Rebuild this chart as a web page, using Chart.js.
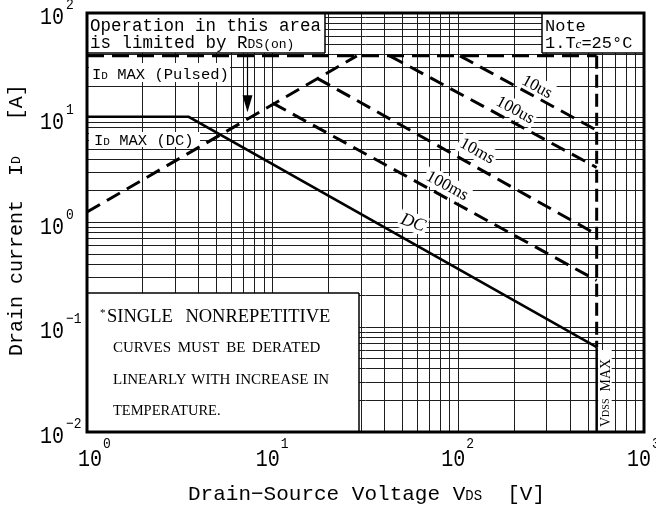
<!DOCTYPE html>
<html>
<head>
<meta charset="utf-8">
<script src="https://cdn.jsdelivr.net/npm/chart.js@4.4.1/dist/chart.umd.min.js"></script>
<style>
  html, body { margin: 0; padding: 0; background: #fff; }
  canvas { display: block; }
</style>
</head>
<body>
<canvas id="soa" width="656" height="508"></canvas>
<script>
// ── Data ─────────────────────────────────────────────────────────────────────
const X_TICKS = [1, 10, 100, 1000];
const X_EXPONENTS = ['0', '1', '2', '3'];
const Y_TICKS = [0.01, 0.1, 1, 10, 100];
const Y_EXPONENTS = ['\u22122', '\u22121', '0', '1', '2'];

const VDSS_MAX = 556;     // V, where the curves stop
const ID_PULSED = 39;     // A
const ID_DC = 10.2;       // A

const RDS_V = [1, 28.4];
const RDS_I = [1.26, 39];

const DC_V = [1, 3.53, 556];
const DC_I = [10.2, 10.2, 0.0645];

const PULSE_NAMES = ['10us', '100us', '10ms', '100ms'];
const PULSE_START_V = [102, 42.7, 17.3, 10];
const PULSE_START_I = [39, 39, 23.9, 13.8];
const PULSE_END_I = [7.6, 3.35, 0.77, 0.28];

// ── Annotation placement (data coords) ───────────────────────────────────────
const LABEL_V = [265, 202, 126, 87];
const LABEL_I = [19.6, 11.8, 4.8, 2.23];
const DC_LABEL = { v: 57, i: 0.99 };
const ARROW = { v: 7.3, from: 41, to: 11.3 };

// ── Helpers ──────────────────────────────────────────────────────────────────
const MONO = '"Liberation Mono", "DejaVu Sans Mono", monospace';
const SERIF = '"Liberation Serif", "DejaVu Serif", serif';

const pts = (xs, ys) => xs.map((x, i) => ({ x, y: ys[i] }));

const decadeGrid = (lo, hi) => {
  const out = [];
  for (let e = lo; e < hi; e++)
    for (let m = 1; m < 10; m++) out.push(parseFloat((m * Math.pow(10, e)).toPrecision(6)));
  out.push(Math.pow(10, hi));
  return out;
};

// draw runs of [text, font] one after the other from x
function rich(ctx, parts, x, y) {
  parts.forEach(([t, f]) => {
    ctx.font = f;
    ctx.fillText(t, x, y);
    x += ctx.measureText(t).width;
  });
  return x;
}

function whiteBox(ctx, x0, y0, x1, y1) {
  ctx.fillStyle = '#fff';
  ctx.fillRect(x0, y0, x1 - x0, y1 - y0);
}

function edge(ctx, x0, y0, x1, y1, w) {
  ctx.beginPath();
  ctx.lineWidth = w || 1.5;
  ctx.strokeStyle = '#000';
  ctx.moveTo(x0, y0);
  ctx.lineTo(x1, y1);
  ctx.stroke();
}

function tallText(ctx, text, x, y, font, align, sy) {
  ctx.save();
  ctx.font = font;
  ctx.textAlign = align;
  ctx.translate(x, y);
  ctx.scale(1, sy);
  ctx.fillText(text, 0, 0);
  ctx.restore();
}

function tiltLabel(ctx, text, x, y, deg, font) {
  ctx.save();
  ctx.translate(x, y);
  ctx.rotate(deg * Math.PI / 180);
  ctx.font = font;
  const w = ctx.measureText(text).width;
  ctx.fillStyle = '#fff';
  ctx.fillRect(-w / 2 - 2, -10, w + 4, 19);
  ctx.fillStyle = '#000';
  ctx.textAlign = 'center';
  ctx.textBaseline = 'middle';
  ctx.fillText(text, 0, 0);
  ctx.restore();
}

// ── Decorations plugin ───────────────────────────────────────────────────────
const soaDecor = {
  id: 'soaDecor',
  beforeDatasetsDraw(chart) {
    const ctx = chart.ctx;
    const ca = chart.chartArea;
    const xs = chart.scales.x, ys = chart.scales.y;
    ctx.save();
    ctx.textBaseline = 'alphabetic';

    // "Operation in this area" box
    whiteBox(ctx, ca.left, ca.top, 325, 53);
    edge(ctx, 325, ca.top, 325, 53);
    edge(ctx, ca.left, 53, 325, 53);
    ctx.fillStyle = '#000';
    rich(ctx, [['Operation in this area', '17.5px ' + MONO]], 90, 31);
    rich(ctx, [['is limited by R', '17.5px ' + MONO], ['DS(on)', '13px ' + MONO]], 90, 48);

    // Note box
    whiteBox(ctx, 542, ca.top, ca.right, 53);
    edge(ctx, 542, ca.top, 542, 53);
    edge(ctx, 542, 53, ca.right, 53);
    ctx.fillStyle = '#000';
    rich(ctx, [['Note', '17px ' + MONO]], 545, 31);
    rich(ctx, [['1.T', '17px ' + MONO], ['c', 'italic 13px ' + SERIF], ['=25\u00b0C', '17px ' + MONO]], 545, 48);

    // ID MAX labels
    whiteBox(ctx, ca.left + 2, 63, 230, 82);
    whiteBox(ctx, ca.left + 2, 132, 200, 147);
    ctx.fillStyle = '#000';
    rich(ctx, [['I', '15.5px ' + MONO], ['D', '11px ' + MONO], [' MAX (Pulsed)', '15.5px ' + MONO]], 92, 79);
    rich(ctx, [['I', '15.5px ' + MONO], ['D', '11px ' + MONO], [' MAX (DC)', '15.5px ' + MONO]], 94, 145);

    // Single-pulse note box
    whiteBox(ctx, ca.left, 293, 359, ca.bottom);
    edge(ctx, ca.left, 293, 359, 293);
    edge(ctx, 359, 293, 359, ca.bottom);
    ctx.fillStyle = '#000';
    ctx.wordSpacing = '8px';
    rich(ctx, [['*', '11px ' + SERIF]], 100, 316);
    rich(ctx, [['SINGLE NONREPETITIVE', '18.5px ' + SERIF]], 107, 322);
    ctx.wordSpacing = '3px';
    rich(ctx, [['CURVES MUST BE DERATED', '15px ' + SERIF]], 113, 352);
    ctx.wordSpacing = '1px';
    rich(ctx, [['LINEARLY WITH INCREASE IN', '15px ' + SERIF]], 113, 384);
    rich(ctx, [['TEMPERATURE.', '14.5px ' + SERIF]], 113, 415);
    ctx.wordSpacing = '0px';

    // VDSS MAX label
    const vx = xs.getPixelForValue(VDSS_MAX);
    whiteBox(ctx, vx + 1.5, 350, vx + 15, ca.bottom - 1);
    ctx.save();
    ctx.translate(vx + 10, 427);
    ctx.rotate(-Math.PI / 2);
    ctx.fillStyle = '#000';
    ctx.textBaseline = 'middle';
    rich(ctx, [['V', '14px ' + SERIF], ['DSS', '10px ' + SERIF], ['  MAX', '14px ' + SERIF]], 0, 0);
    ctx.restore();

    // curve labels
    PULSE_NAMES.forEach((n, i) => {
      tiltLabel(ctx, n, xs.getPixelForValue(LABEL_V[i]), ys.getPixelForValue(LABEL_I[i]), 28.5, '17px ' + SERIF);
    });
    tiltLabel(ctx, 'DC', xs.getPixelForValue(DC_LABEL.v), ys.getPixelForValue(DC_LABEL.i), 20, 'italic 18px ' + SERIF);

    ctx.restore();
  },
  afterDatasetsDraw(chart) {
    const ctx = chart.ctx;
    const ca = chart.chartArea;
    const xs = chart.scales.x, ys = chart.scales.y;
    ctx.save();

    // arrow from the RDS(on) note
    const ax = Math.round(xs.getPixelForValue(ARROW.v)) + 0.5;
    const ay0 = ys.getPixelForValue(ARROW.from);
    const ay1 = ys.getPixelForValue(ARROW.to);
    edge(ctx, ax, ay0, ax, ay1 - 14, 1.2);
    ctx.beginPath();
    ctx.moveTo(ax - 5, ay1 - 17);
    ctx.lineTo(ax + 5, ay1 - 17);
    ctx.lineTo(ax, ay1);
    ctx.closePath();
    ctx.fillStyle = '#000';
    ctx.fill();

    // frame
    ctx.lineWidth = 3;
    ctx.strokeStyle = '#000';
    ctx.strokeRect(ca.left, ca.top, ca.right - ca.left, ca.bottom - ca.top);

    // tick labels
    ctx.fillStyle = '#000';
    ctx.textBaseline = 'alphabetic';
    X_TICKS.forEach((v, i) => {
      const px = xs.getPixelForValue(v) + (i === 0 ? 15 : 7);
      tallText(ctx, '10', px, 466, '20px ' + MONO, 'right', 1.2);
      tallText(ctx, X_EXPONENTS[i], px + 1, 448, '13px ' + MONO, 'left', 1.15);
    });
    Y_TICKS.forEach((v, i) => {
      const py = ys.getPixelForValue(v);
      tallText(ctx, '10', 64, py + 11, '20px ' + MONO, 'right', 1.2);
      tallText(ctx, Y_EXPONENTS[i], 66, py - 4, '13px ' + MONO, 'left', 1.15);
    });

    // axis titles
    rich(ctx, [['Drain\u2212Source Voltage V', '21px ' + MONO], ['DS', '14px ' + MONO], ['  [V]', '21px ' + MONO]], 188, 500);
    ctx.save();
    ctx.translate(17, 356);
    ctx.rotate(-Math.PI / 2);
    ctx.textBaseline = 'middle';
    rich(ctx, [['Drain current  I', '20px ' + MONO], ['D', '13px ' + MONO], ['   [A]', '20px ' + MONO]], 0, 0);
    ctx.restore();

    ctx.restore();
  }
};

// ── Datasets ─────────────────────────────────────────────────────────────────
const line = (data, extra) => Object.assign({
  data, showLine: true, borderColor: '#000', borderWidth: 3,
  pointRadius: 0, fill: false, tension: 0
}, extra);

const datasets = [
  line(pts([1, VDSS_MAX], [ID_PULSED, ID_PULSED]), { borderDash: [17, 8] }),
  line(pts(RDS_V, RDS_I), { borderDash: [15, 8] }),
  ...PULSE_NAMES.map((n, i) =>
    line(pts([PULSE_START_V[i], VDSS_MAX], [PULSE_START_I[i], PULSE_END_I[i]]), { borderDash: [15, 8], label: n })),
  line(pts(DC_V, DC_I), { borderWidth: 2.5 }),
  line(pts([VDSS_MAX, VDSS_MAX], [ID_PULSED, DC_I[DC_I.length - 1]]), { borderDash: [13, 6] }),
  line(pts([VDSS_MAX, VDSS_MAX], [DC_I[DC_I.length - 1], Y_TICKS[0]]), { borderWidth: 2.5 })
];

const gridOpts = { color: '#1e1e1e', lineWidth: 1, drawTicks: false };

new Chart(document.getElementById('soa'), {
  type: 'scatter',
  data: { datasets },
  options: {
    responsive: false,
    animation: false,
    events: [],
    layout: { padding: { top: 13, right: 12, left: 0, bottom: 0 } },
    plugins: { legend: { display: false }, tooltip: { enabled: false } },
    scales: {
      x: {
        type: 'logarithmic', min: X_TICKS[0], max: X_TICKS[X_TICKS.length - 1],
        grid: gridOpts, border: { display: false },
        ticks: { display: false },
        afterBuildTicks: s => { s.ticks = decadeGrid(0, 3).map(value => ({ value })); },
        afterFit: s => { s.height = 76; }
      },
      y: {
        type: 'logarithmic', min: Y_TICKS[0], max: Y_TICKS[Y_TICKS.length - 1],
        grid: gridOpts, border: { display: false },
        ticks: { display: false },
        afterBuildTicks: s => { s.ticks = decadeGrid(-2, 2).map(value => ({ value })); },
        afterFit: s => { s.width = 87; }
      }
    }
  },
  plugins: [soaDecor]
});
</script>
</body>
</html>
